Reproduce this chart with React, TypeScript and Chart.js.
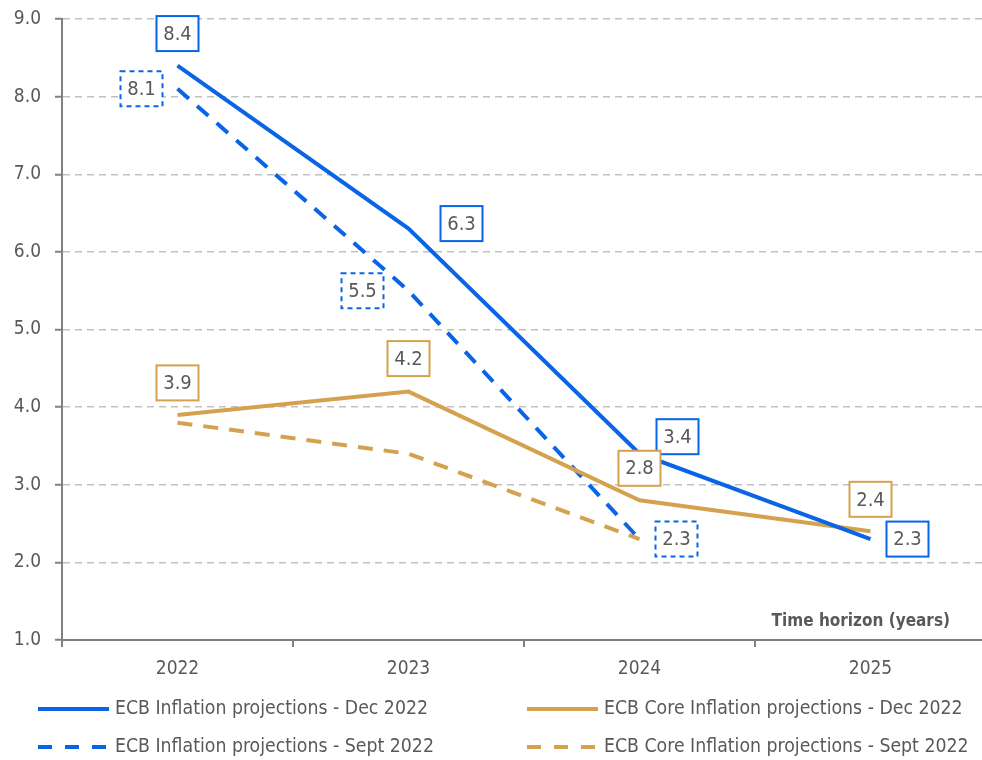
import React, { useEffect, useRef } from "react";
import { Chart, registerables } from "chart.js";

Chart.register(...registerables);

const categories = ["2022", "2023", "2024", "2025"];
const inflationDec = [8.4, 6.3, 3.4, 2.3];
const inflationSept = [8.1, 5.5, 2.3, null];
const coreDec = [3.9, 4.2, 2.8, 2.4];
const coreSept = [3.8, 3.4, 2.3, null];
const seriesNames = [
  "ECB Inflation projections - Dec 2022",
  "ECB Core Inflation projections - Dec 2022",
  "ECB Inflation projections - Sept 2022",
  "ECB Core Inflation projections - Sept 2022",
];
const axisTitle = "Time horizon (years)";

const BLUE = "#0a64e6";
const GOLD = "#d4a14f";
const TEXT = "#595959";
const FONT = "'DejaVu Sans Condensed', 'Liberation Sans Narrow', 'Noto Sans', sans-serif";

// label box offsets (dx, dy) relative to each point, per dataset
const labelOffsets: Record<number, ([number, number] | null)[]> = {
  0: [[0, -32], [53, -5], [38, -17], [37, 0]],
  1: [[0, -32], [0, -33], [0, -32], [0, -32]],
  2: [[-36, 0], [-46, 0], [37, 0], null],
};

const labelPlugin = {
  id: "boxLabels",
  afterDatasetsDraw(chart: any) {
    const ctx = chart.ctx;
    chart.data.datasets.forEach((ds: any, i: number) => {
      const offs = labelOffsets[i];
      if (!offs) return;
      const meta = chart.getDatasetMeta(i);
      meta.data.forEach((pt: any, j: number) => {
        const v = ds.data[j];
        const off = offs[j];
        if (v == null || !off) return;
        const cx = pt.x + off[0];
        const cy = pt.y + off[1];
        const w = 42, h = 35;
        ctx.save();
        ctx.fillStyle = "#ffffff";
        ctx.fillRect(cx - w / 2, cy - h / 2, w, h);
        ctx.strokeStyle = ds.borderColor;
        ctx.lineWidth = 2;
        ctx.setLineDash(ds.borderDash && ds.borderDash.length ? [5, 4] : []);
        ctx.strokeRect(cx - w / 2, cy - h / 2, w, h);
        ctx.setLineDash([]);
        ctx.fillStyle = TEXT;
        ctx.font = `20px ${FONT}`;
        ctx.textAlign = "center";
        ctx.textBaseline = "middle";
        ctx.fillText(v.toFixed(1), cx, cy + 1);
        ctx.restore();
      });
    });
  },
  afterDraw(chart: any) {
    const ctx = chart.ctx;
    ctx.save();
    ctx.fillStyle = TEXT;
    ctx.font = `bold 17px ${FONT}`;
    ctx.textAlign = "right";
    ctx.textBaseline = "middle";
    ctx.fillText(axisTitle, 950, 622);

    const items = [
      { x: 38, y: 709, color: BLUE, dash: false, text: seriesNames[0] },
      { x: 527, y: 709, color: GOLD, dash: false, text: seriesNames[1] },
      { x: 38, y: 747, color: BLUE, dash: true, text: seriesNames[2] },
      { x: 527, y: 747, color: GOLD, dash: true, text: seriesNames[3] },
    ];
    items.forEach((it) => {
      ctx.strokeStyle = it.color;
      ctx.lineWidth = 4;
      ctx.lineCap = "butt";
      ctx.setLineDash(it.dash ? [14, 13] : []);
      ctx.beginPath();
      ctx.moveTo(it.x, it.y);
      ctx.lineTo(it.x + 71, it.y);
      ctx.stroke();
      ctx.setLineDash([]);
      ctx.fillStyle = TEXT;
      ctx.font = `19.3px ${FONT}`;
      ctx.textAlign = "left";
      ctx.textBaseline = "middle";
      ctx.fillText(it.text, it.x + 77, it.y);
    });
    ctx.restore();
  },
};

export default function App() {
  const ref = useRef<HTMLCanvasElement | null>(null);
  useEffect(() => {
    if (!ref.current) return;
    const chart = new Chart(ref.current, {
      type: "line",
      data: {
        labels: categories,
        datasets: [
          { label: seriesNames[0], data: inflationDec, borderColor: BLUE, borderWidth: 4, pointRadius: 0, borderDash: [] },
          { label: seriesNames[1], data: coreDec, borderColor: GOLD, borderWidth: 4, pointRadius: 0, borderDash: [] },
          { label: seriesNames[2], data: inflationSept, borderColor: BLUE, borderWidth: 4, pointRadius: 0, borderDash: [15, 11] },
          { label: seriesNames[3], data: coreSept, borderColor: GOLD, borderWidth: 4, pointRadius: 0, borderDash: [15, 11] },
        ] as any,
      },
      options: {
        animation: false,
        responsive: false,
        maintainAspectRatio: false,
        layout: { padding: { top: 19, right: 4, bottom: 0, left: 0 } },
        plugins: { legend: { display: false }, tooltip: { enabled: false } },
        scales: {
          x: {
            offset: true,
            grid: { offset: true, drawOnChartArea: false, tickLength: 7, color: "#808080", lineWidth: 2 },
            border: { color: "#808080", width: 2 },
            ticks: { color: TEXT, font: { family: FONT, size: 19 }, padding: 11, maxRotation: 0 },
            afterFit: (s: any) => { s.height = 120; s.paddingLeft = 0; s.paddingRight = 0; },
          },
          y: {
            min: 1,
            max: 9,
            ticks: {
              stepSize: 1,
              color: TEXT,
              font: { family: FONT, size: 19 },
              padding: 14,
              callback: (v: any) => Number(v).toFixed(1),
            },
            grid: { color: "#c0c0c0", lineWidth: 1.5, tickLength: 7, tickColor: "#808080", tickWidth: 2, tickBorderDash: [] } as any,
            border: { color: "#808080", width: 2, dash: [7, 5] },
            afterFit: (s: any) => { s.width = 62; s.paddingTop = 0; s.paddingBottom = 0; },
          },
        },
      } as any,
      plugins: [labelPlugin],
    });
    return () => chart.destroy();
  }, []);
  return (
    <div style={{ position: "fixed", left: 0, top: 0, width: 982, height: 760, overflow: "hidden", background: "#fff" }}>
      <canvas ref={ref} width={990} height={760} style={{ display: "block", width: 990, height: 760 }} />
    </div>
  );
}
